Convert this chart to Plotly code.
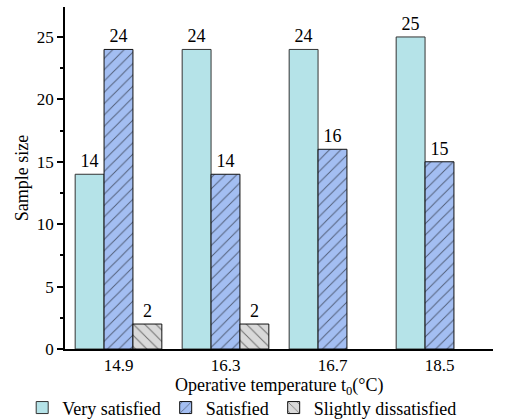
import plotly.graph_objects as go

categories = ["14.9", "16.3", "16.7", "18.5"]
very_satisfied = [14, 24, 24, 25]
satisfied = [24, 14, 16, 15]
slightly_dissatisfied = [2, 2, None, None]

font_family = "Liberation Serif"
fs = 17
fs_title = 18

fig = go.Figure()
fig.add_trace(go.Bar(
    x=categories, y=very_satisfied, name="Very satisfied",
    marker=dict(color="#B5E3E8", line=dict(color="#333333", width=1)),
    text=very_satisfied, textposition="outside", cliponaxis=False,
    textfont=dict(family=font_family, size=fs + 1, color="black"),
))
fig.add_trace(go.Bar(
    x=categories, y=satisfied, name="Satisfied",
    marker=dict(color="#A3BEF2", line=dict(color="#111111", width=1),
                pattern=dict(shape="/", fgcolor="black", bgcolor="#A3BEF2", size=8, solidity=0.12)),
    text=satisfied, textposition="outside", cliponaxis=False,
    textfont=dict(family=font_family, size=fs + 1, color="black"),
))
fig.add_trace(go.Bar(
    x=categories, y=slightly_dissatisfied, name="Slightly dissatisfied",
    marker=dict(color="#D9D9D9", line=dict(color="#111111", width=1),
                pattern=dict(shape="\\", fgcolor="black", bgcolor="#D9D9D9", size=8, solidity=0.12)),
    text=[v if v is not None else "" for v in slightly_dissatisfied], textposition="outside", cliponaxis=False,
    textfont=dict(family=font_family, size=fs + 1, color="black"),
))

fig.update_layout(
    width=524, height=420,
    margin=dict(l=65, r=31, t=7, b=71, autoexpand=False),
    paper_bgcolor="white", plot_bgcolor="white",
    barmode="group", bargap=0.19, bargroupgap=0,
    font=dict(family=font_family, size=fs, color="black"),
    showlegend=True,
    legend=dict(orientation="h", x=-0.1, xanchor="left",
                y=-0.118, yanchor="top",
                font=dict(family=font_family, size=fs_title), itemwidth=30,
                traceorder="normal", tracegroupgap=0, itemclick=False),
    annotations=[dict(text="Operative temperature t<sub>0</sub>(°C)", xref="paper", yref="paper",
                      x=0.5, y=0, yshift=-24, yanchor="top", showarrow=False,
                      font=dict(family=font_family, size=fs_title))],
)
fig.update_xaxes(
    type="category", range=[-0.5, 3.5], automargin=False,
    showline=True, linecolor="black", linewidth=1.5,
    ticks="", showgrid=False,
    tickfont=dict(family=font_family, size=fs),
    minor=dict(ticks="outside", ticklen=5, tickcolor="black", tickwidth=1.5, showgrid=False),
)
fig.update_yaxes(
    range=[0, 27.4], showline=True, linecolor="black", linewidth=1.5, automargin=False,
    ticks="outside", ticklen=6, tickwidth=1.5, tickcolor="black",
    tick0=0, dtick=5, showgrid=False, zeroline=False,
    tickfont=dict(family=font_family, size=fs),
    title=dict(text="Sample size", standoff=4, font=dict(family=font_family, size=fs_title)),
    minor=dict(ticks="outside", ticklen=3, tickcolor="black", dtick=2.5, tick0=0, showgrid=False),
)

fig.write_html("out.html")
